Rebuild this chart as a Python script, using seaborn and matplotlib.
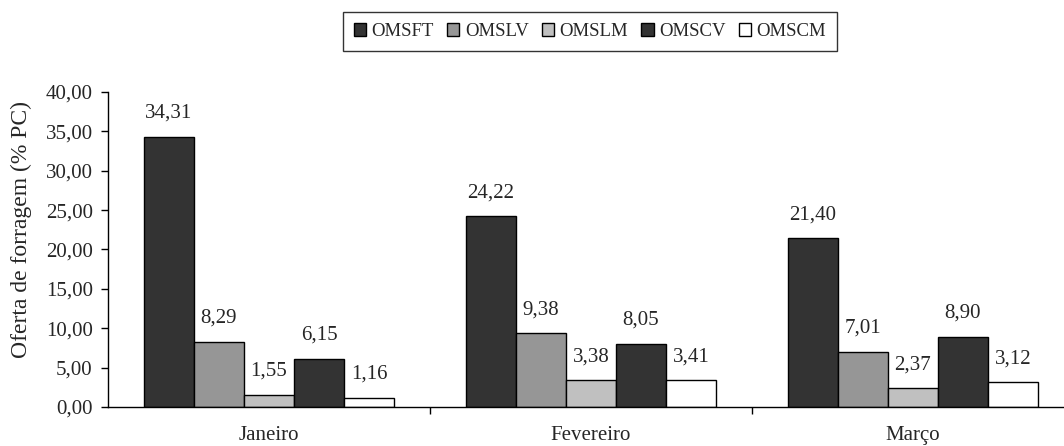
import matplotlib
matplotlib.use("Agg")
import matplotlib.pyplot as plt
import seaborn as sns
import pandas as pd
from matplotlib.ticker import FixedLocator, FuncFormatter

months = ["Janeiro", "Fevereiro", "Março"]
series = ["OMSFT", "OMSLV", "OMSLM", "OMSCV", "OMSCM"]
omsft = [34.31, 24.22, 21.40]
omslv = [8.29, 9.38, 7.01]
omslm = [1.55, 3.38, 2.37]
omscv = [6.15, 8.05, 8.90]
omscm = [1.16, 3.41, 3.12]
colors = ["#333333", "#969696", "#c0c0c0", "#333333", "#ffffff"]

rows = []
for name, vals in zip(series, [omsft, omslv, omslm, omscv, omscm]):
    for m, v in zip(months, vals):
        rows.append({"mes": m, "serie": name, "valor": v})
df = pd.DataFrame(rows)

sns.set_style("white")
plt.rcParams['font.family'] = ['Liberation Serif', 'DejaVu Serif']

fig = plt.figure(figsize=(10.64, 4.46), dpi=100)
ax = fig.add_axes([108 / 1064, 1 - 407 / 446, 956 / 1064, 315 / 446])

sns.barplot(data=df, x="mes", y="valor", hue="serie", order=months, hue_order=series,
            palette=colors, width=0.777, edgecolor="black", linewidth=1.0,
            saturation=1, ax=ax, legend=True)

fmt = lambda v: f"{v:.2f}".replace(".", ",")
for cont in ax.containers:
    ax.bar_label(cont, labels=[fmt(v) for v in cont.datavalues], padding=10, fontsize=15)

ax.set_ylim(0, 40)
ax.set_xlim(-0.5, 2.47)
ax.set_yticks(range(0, 41, 5))
ax.yaxis.set_major_formatter(FuncFormatter(lambda v, p: fmt(v)))
ax.set_ylabel("Oferta de forragem (% PC)", fontsize=17)
ax.yaxis.set_label_coords(-76 / 956, 0.565)
ax.set_xlabel("")
ax.tick_params(axis="y", direction="out", length=5, width=1, labelsize=15, left=True,
               color="black", pad=6)
ax.tick_params(axis="x", which="major", length=0, labelsize=15, pad=14)
ax.xaxis.set_minor_locator(FixedLocator([0.5, 1.5]))
ax.tick_params(axis="x", which="minor", direction="out", length=5, width=1, bottom=True, color="black")
for s in ["top", "right"]:
    ax.spines[s].set_visible(False)
for s in ["left", "bottom"]:
    ax.spines[s].set_color("black")
    ax.spines[s].set_linewidth(1)

ax.get_legend().remove()
leg = fig.legend(*ax.get_legend_handles_labels(), loc="center", bbox_to_anchor=(590 / 1064, 1 - 31.5 / 446),
                 ncol=5, frameon=True, fancybox=False, edgecolor="black", fontsize=13.5,
                 handlelength=0.65, handleheight=0.65, handletextpad=0.3, columnspacing=0.7,
                 borderpad=0.6)
leg.get_frame().set_linewidth(1)

fig.savefig("out.png", dpi=100)
